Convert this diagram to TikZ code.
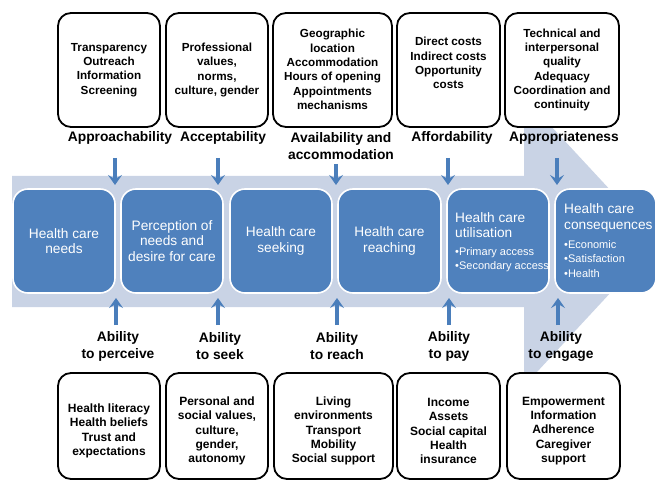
\documentclass[tikz,border=0pt]{standalone}
\usepackage{fontspec}
\setmainfont{Liberation Sans}
\usetikzlibrary{arrows.meta}
\definecolor{bandc}{HTML}{C9D3E5}
\definecolor{boxblue}{HTML}{4F81BD}
\definecolor{arrblue}{HTML}{4A7EBB}
\begin{document}
\begin{tikzpicture}[x=1pt,y=-1pt,
  framebox/.style={draw=black,line width=1.8pt,rounded corners=13pt,fill=white,minimum width=#1,inner sep=0pt},
  toptxt/.style={align=center,font=\fontsize{11.7}{14.3}\selectfont\bfseries,inner sep=0pt},
  bottxt/.style={align=center,font=\fontsize{12}{14.4}\selectfont\bfseries,inner sep=0pt},
  lab/.style={align=center,font=\fontsize{13.8}{17}\selectfont\bfseries,inner sep=0pt},
  bluebox/.style={fill=boxblue,draw=white,line width=1.6pt,rounded corners=15pt,minimum width=#1,minimum height=104pt,inner sep=0pt},
  bluetxt/.style={align=center,text=white,font=\fontsize{13.7}{15.7}\selectfont,inner sep=0pt},
  bluehead/.style={align=left,text=white,font=\fontsize{13.7}{15.2}\selectfont,inner sep=0pt,anchor=west},
  bluebul/.style={align=left,text=white,font=\fontsize{11}{14.3}\selectfont,inner sep=0pt,anchor=west},
  arr/.style={draw=arrblue,line width=3.6pt,-{Stealth[length=10pt,width=14pt,inset=4pt]}}]
\useasboundingbox (0,0) rectangle (656,481);
\clip (0,0) rectangle (656,481);
% big background arrow
\fill[bandc] (12,176) -- (524,176) -- (524,97) -- (658,241.5) -- (524,386) -- (524,307) -- (12,307) -- cycle;
% top boxes
\node[framebox=102pt,minimum height=114pt] (t1) at (109,70) {};
\node[framebox=102pt,minimum height=114pt] (t2) at (217,70) {};
\node[framebox=119pt,minimum height=114pt] (t3) at (332.5,70) {};
\node[framebox=103pt,minimum height=114pt] (t4) at (448.5,70) {};
\node[framebox=114pt,minimum height=114pt] (t5) at (562,70) {};
\node[toptxt] (t1x) at (109,70) {Transparency\\Outreach\\Information\\Screening};
\node[toptxt] (t2x) at (217,70) {Professional\\values,\\norms,\\culture, gender};
\node[toptxt] (t3x) at (332.5,69.5) {Geographic\\location\\Accommodation\\Hours of opening\\Appointments\\mechanisms};
\node[toptxt] (t4x) at (448.5,63) {Direct costs\\Indirect costs\\Opportunity\\costs};
\node[toptxt] (t5x) at (562,70) {Technical and\\interpersonal\\quality\\Adequacy\\Coordination and\\continuity};
% top labels
\node[lab] (l1) at (120,138) {Approachability};
\node[lab] (l2) at (223,138) {Acceptability};
\node[lab] (l3) at (341,146.5) {Availability and\\accommodation};
\node[lab] (l4) at (452,138) {Affordability};
\node[lab] (l5) at (564,138) {Appropriateness};
% blue process boxes
\node[bluebox=102pt] (n1) at (64,241) {};
\node[bluebox=102pt] (n2) at (172,241) {};
\node[bluebox=102pt] (n3) at (281,241) {};
\node[bluebox=103pt] (n4) at (389.5,241) {};
\node[bluebox=102pt] (n5) at (498,241) {};
\node[bluebox=101pt] (n6) at (605.5,241) {};
\node[bluetxt] (n1x) at (64,241) {Health care\\needs};
\node[bluetxt] (n2x) at (172,241) {Perception of\\needs and\\desire for care};
\node[bluetxt] (n3x) at (281,241) {Health care\\seeking};
\node[bluetxt] (n4x) at (389.5,241) {Health care\\reaching};
\node[bluehead] (n5h) at (455,225) {Health care\\utilisation};
\node[bluebul] (n5b) at (455,260) {•Primary access\\•Secondary access};
\node[bluehead] (n6h) at (564,218) {Health care\\consequences};
\node[bluebul] (n6b) at (564,259) {•Economic\\•Satisfaction\\•Health};
% down arrows
\coordinate (d1) at (115,158); \coordinate (e1) at (115,185);
\coordinate (d2) at (218,158); \coordinate (e2) at (218,185);
\coordinate (d3) at (336,164); \coordinate (e3) at (336,185);
\coordinate (d4) at (448,158); \coordinate (e4) at (448,185);
\coordinate (d5) at (557,158); \coordinate (e5) at (557,185);
\foreach \i in {1,...,5} {\draw[arr] (d\i) -- (e\i);}
% up arrows
\coordinate (u1) at (116,325); \coordinate (v1) at (116,298);
\coordinate (u2) at (218,325); \coordinate (v2) at (218,298);
\coordinate (u3) at (337,325); \coordinate (v3) at (337,298);
\coordinate (u4) at (449,325); \coordinate (v4) at (449,298);
\coordinate (u5) at (558,325); \coordinate (v5) at (558,298);
\foreach \i in {1,...,5} {\draw[arr] (u\i) -- (v\i);}
% ability labels
\node[lab] (a1) at (118,346.5) {Ability\\to perceive};
\node[lab] (a2) at (220,346.5) {Ability\\to seek};
\node[lab] (a3) at (337,346.5) {Ability\\to reach};
\node[lab] (a4) at (449,346.5) {Ability\\to pay};
\node[lab] (a5) at (561,346.5) {Ability\\to engage};
% bottom boxes
\node[framebox=102pt,minimum height=106pt] (b1) at (109,426) {};
\node[framebox=102pt,minimum height=106pt] (b2) at (217,426) {};
\node[framebox=119pt,minimum height=106pt] (b3) at (333.5,426) {};
\node[framebox=103pt,minimum height=106pt] (b4) at (448.5,426) {};
\node[framebox=113pt,minimum height=106pt] (b5) at (563.5,426) {};
\node[bottxt] (b1x) at (109,431) {Health literacy\\Health beliefs\\Trust and\\expectations};
\node[bottxt] (b2x) at (217,431) {Personal and\\social values,\\culture,\\gender,\\autonomy};
\node[bottxt] (b3x) at (333.5,431) {Living\\environments\\Transport\\Mobility\\Social support};
\node[bottxt] (b4x) at (448.5,431) {Income\\Assets\\Social capital\\Health\\insurance};
\node[bottxt] (b5x) at (563.5,431) {Empowerment\\Information\\Adherence\\Caregiver\\support};
\end{tikzpicture}
\end{document}
